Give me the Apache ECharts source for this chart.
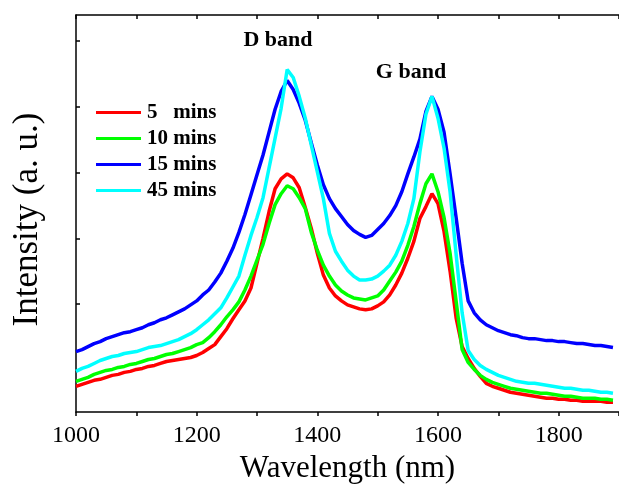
<!DOCTYPE html>
<html>
<head>
<meta charset="utf-8">
<script src="https://cdn.jsdelivr.net/npm/echarts@6/dist/echarts.min.js"></script>
<style>
html,body{margin:0;padding:0;background:#fff;}
#chart{width:619px;height:489px;}
</style>
</head>
<body>
<div id="chart"></div>
<script>
const wavelength = [1000,1010,1020,1030,1040,1050,1060,1070,1080,1090,
1100,1110,1120,1130,1140,1150,1160,1170,1180,1190,
1200,1210,1220,1230,1240,1250,1260,1270,1280,1290,
1300,1310,1320,1330,1340,1350,1360,1370,1380,1390,
1400,1410,1420,1430,1440,1450,1460,1470,1480,1490,
1500,1510,1520,1530,1540,1550,1560,1570,1580,1590,
1600,1610,1620,1630,1640,1650,1660,1670,1680,1690,
1700,1710,1720,1730,1740,1750,1760,1770,1780,1790,
1800,1810,1820,1830,1840,1850,1860,1870,1880,1890];

const mins5 = [26,28,30,32,33,35,37,38,40,41,
43,44,46,47,49,51,52,53,54,55,
57,60,64,68,76,84,94,103,112,125,
150,175,202,225,235,240,236,226,206,185,
160,138,125,117,112,108,106,104,103,104,
107,111,118,128,140,155,172,195,207,220,
210,182,142,95,66,54,44,36,29,26,
24,22,20,19,18,17,16,15,14,14,
13,13,12,12,11,11,11,11,10,10];

const mins10 = [31,33,35,38,40,42,43,45,46,48,
49,51,53,54,56,58,59,61,63,65,
68,70,75,81,88,96,103,111,123,137,
153,169,190,209,220,228,225,216,205,181,
163,148,137,128,122,118,115,114,113,115,
117,123,132,141,152,168,187,210,230,240,
222,196,160,112,63,50,43,37,33,30,
28,26,24,23,22,21,20,19,19,18,
17,16,16,15,14,14,14,13,13,12];

const mins15 = [61,63,66,69,71,74,76,78,80,81,
83,85,88,90,93,95,98,101,104,108,
112,118,123,131,140,152,165,181,199,219,
239,259,282,305,323,334,325,311,294,271,
249,229,215,205,197,189,183,179,176,178,
184,190,198,208,222,240,257,275,303,318,
305,282,240,196,150,112,100,93,88,85,
82,80,78,77,75,74,74,73,72,72,
71,71,70,69,69,68,67,67,66,65];

const mins45 = [41,44,46,49,52,54,56,57,59,60,
61,63,65,66,67,69,71,73,76,79,
83,88,93,99,105,115,126,137,158,178,
196,216,246,276,306,345,337,318,296,269,
242,215,180,162,152,143,137,133,133,134,
137,142,148,158,172,190,215,262,300,318,
296,266,222,159,100,62,53,47,43,40,
37,35,33,31,30,29,29,28,27,26,
25,24,24,23,22,22,21,20,20,19];

const seriesNames = ['5\u00a0\u00a0\u00a0mins','10 mins','15 mins','45 mins'];
const seriesColors = ['#ff0000','#00ff00','#0000ff','#00ffff'];
const seriesValues = [mins5, mins10, mins15, mins45];
const xTickLabels = [1000,1200,1400,1600,1800];
const yTickPositions = [43,109,175,241,308,374];

const font = '"Liberation Serif","Times New Roman",serif';
const chart = echarts.init(document.getElementById('chart'), null, {renderer:'canvas'});

const series = seriesValues.map((vals, i) => ({
  name: seriesNames[i],
  type: 'line',
  data: wavelength.map((w, j) => [w, vals[j]]),
  showSymbol: false,
  symbol: 'none',
  smooth: false,
  lineStyle: {color: seriesColors[i], width: 3.5},
  itemStyle: {color: seriesColors[i]},
  animation: false,
  z: 2 + i
}));

chart.setOption({
  animation: false,
  backgroundColor: '#fff',
  grid: {left: 76, top: 15, right: -6, bottom: 74, containLabel: false},
  legend: {
    orient: 'vertical',
    left: 96,
    top: 102,
    padding: 0,
    itemWidth: 45,
    itemHeight: 14,
    itemGap: 5,
    icon: 'path://M0,6 L45,6 L45,9 L0,9 Z',
    data: seriesNames.map((n, i) => ({name: n, itemStyle: {color: seriesColors[i]}})),
    textStyle: {fontFamily: font, fontSize: 21, fontWeight: 'bold', color: '#000', lineHeight: 21, padding: [0,0,0,1]}
  },
  xAxis: [{
    type: 'value',
    position: 'bottom',
    min: 1000,
    max: 1900,
    interval: 200,
    name: 'Wavelength (nm)',
    nameLocation: 'middle',
    nameGap: 35,
    nameTextStyle: {fontFamily: font, fontSize: 31, color: '#000'},
    axisLine: {show: true, onZero: false, lineStyle: {color: '#000', width: 1.5}},
    axisTick: {show: true, inside: false, length: 4, lineStyle: {color: '#000', width: 1.5}},
    minorTick: {show: true, splitNumber: 2, length: 4, lineStyle: {color: '#000', width: 1.5}},
    splitLine: {show: false},
    axisLabel: {
      fontFamily: font, fontSize: 24, color: '#000', margin: 12,
      showMaxLabel: false,
      formatter: v => xTickLabels.includes(v) ? String(v) : ''
    }
  }, {
    type: 'value',
    position: 'top',
    min: 1000,
    max: 1900,
    interval: 100,
    axisLine: {show: true, onZero: false, lineStyle: {color: '#000', width: 1.5}},
    axisTick: {show: true, inside: true, length: 4, lineStyle: {color: '#000', width: 1.5}},
    axisLabel: {show: false},
    splitLine: {show: false}
  }],
  yAxis: [{
    type: 'value',
    min: 0,
    max: 400,
    name: 'Intensity (a. u.)',
    nameLocation: 'middle',
    nameGap: 31,
    nameRotate: 90,
    nameTextStyle: {fontFamily: font, fontSize: 35, color: '#000', padding: [0,12,0,0]},
    axisLine: {show: true, onZero: false, lineStyle: {color: '#000', width: 1.5}},
    axisTick: {show: true, inside: true, length: 4, customValues: yTickPositions, lineStyle: {color: '#000', width: 1.5}},
    axisLabel: {show: false},
    splitLine: {show: false}
  }],
  graphic: [
    {type: 'text', x: 278, y: 40, silent: true,
     style: {text: 'D band', fontFamily: font, fontSize: 22, fontWeight: 'bold', fill: '#000', align: 'center', verticalAlign: 'middle'}},
    {type: 'text', x: 411, y: 72, silent: true,
     style: {text: 'G band', fontFamily: font, fontSize: 22, fontWeight: 'bold', fill: '#000', align: 'center', verticalAlign: 'middle'}}
  ],
  series: series
});
</script>
</body>
</html>
